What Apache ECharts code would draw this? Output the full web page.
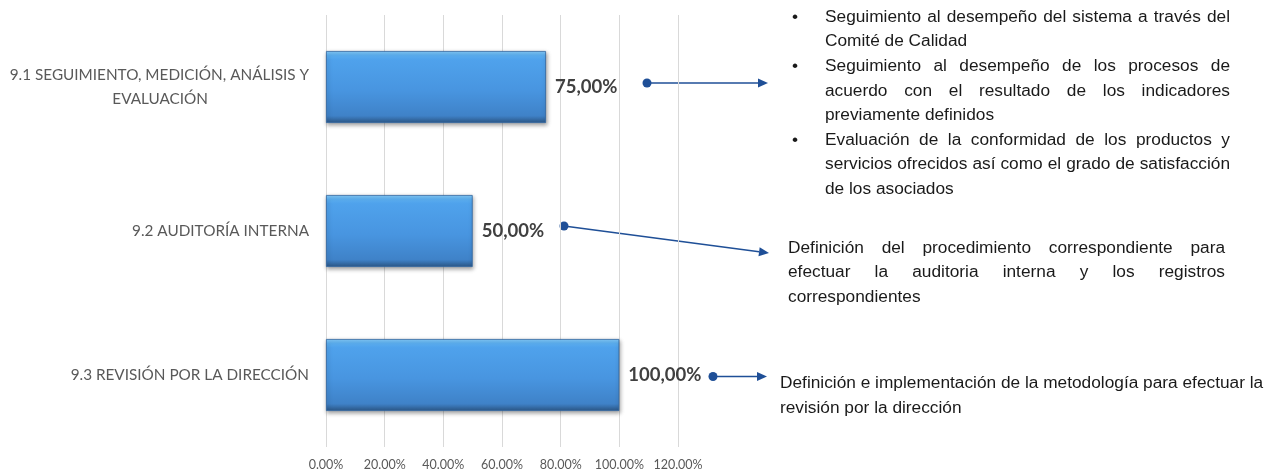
<!DOCTYPE html>
<html>
<head>
<meta charset="utf-8">
<title>Capítulo 9 – Evaluación del desempeño</title>
<script src="https://cdn.jsdelivr.net/npm/echarts@6/dist/echarts.min.js"></script>
<style>
  html, body { margin: 0; padding: 0; background: #ffffff; }
  #chart { width: 1269px; height: 471px; }
</style>
</head>
<body>
<div id="chart"></div>
<script>
// Requisitos del capítulo 9 y su grado de cumplimiento (%)
const categories = [
  '9.1 SEGUIMIENTO, MEDICIÓN, ANÁLISIS Y\nEVALUACIÓN',
  '9.2 AUDITORÍA INTERNA',
  '9.3 REVISIÓN POR LA DIRECCIÓN'
];
const cumplimiento = [75, 50, 100];
const xTicks = { min: 0, max: 120, interval: 20 };

// Notas que acompañan a cada requisito
const notas91 = [
  ['Seguimiento al desempeño del sistema a través del', 'Comité de Calidad'],
  ['Seguimiento al desempeño de los procesos de', 'acuerdo con el resultado de los indicadores', 'previamente definidos'],
  ['Evaluación de la conformidad de los productos y', 'servicios ofrecidos así como el grado de satisfacción', 'de los asociados']
];
const notas92 = ['Definición del procedimiento correspondiente para', 'efectuar la auditoria interna y los registros', 'correspondientes'];
const notas93 = ['Definición e implementación de la metodología para efectuar la', 'revisión por la dirección'];

const chart = echarts.init(document.getElementById('chart'), null, { renderer: 'canvas' });

const NOTE_FONT = 'Liberation Sans, Arial, sans-serif';
const NOTE_SIZE = 17.3;
const NOTE_COLOR = '#1a1a1a';
const ARROW_COLOR = '#1f4f97';
const AXIS_FONT = 'Lato, sans-serif';

const measureCtx = document.createElement('canvas').getContext('2d');
measureCtx.font = NOTE_SIZE + 'px ' + NOTE_FONT;
const textWidth = s => measureCtx.measureText(s).width;

function textEl(str, x, y) {
  return {
    type: 'text',
    silent: true,
    style: {
      text: str, x: x, y: y,
      fill: NOTE_COLOR,
      fontSize: NOTE_SIZE, fontFamily: NOTE_FONT,
      align: 'left', verticalAlign: 'middle',
      textAlign: 'left', textVerticalAlign: 'middle'
    }
  };
}

// One line of a paragraph; justified lines spread their words to the right edge
function lineEls(str, left, right, y, justify) {
  if (!justify) return [textEl(str, left, y)];
  const words = str.split(' ');
  const widths = words.map(textWidth);
  const total = widths.reduce((a, b) => a + b, 0);
  const gap = words.length > 1 ? (right - left - total) / (words.length - 1) : 0;
  const out = [];
  let x = left;
  words.forEach((w, i) => {
    out.push(textEl(w, x, y));
    x += widths[i] + gap;
  });
  return out;
}

// Paragraph: every line except the last is justified
function paragraphEls(lines, left, right, y0, lineH, justifyAll) {
  let els = [];
  lines.forEach((ln, i) => {
    const justify = justifyAll && i < lines.length - 1;
    els = els.concat(lineEls(ln, left, right, y0 + i * lineH, justify));
  });
  return els;
}

function arrowEls(x1, y1, x2, y2) {
  const ang = Math.atan2(y2 - y1, x2 - x1);
  const len = 10, half = 4.5;
  const bx = x2 - len * Math.cos(ang), by = y2 - len * Math.sin(ang);
  const nx = -Math.sin(ang), ny = Math.cos(ang);
  return [
    {
      type: 'line', silent: true,
      shape: { x1: x1, y1: y1, x2: bx, y2: by },
      style: { stroke: ARROW_COLOR, lineWidth: 1.6 }
    },
    {
      type: 'polygon', silent: true,
      shape: { points: [[x2, y2], [bx + nx * half, by + ny * half], [bx - nx * half, by - ny * half]] },
      style: { fill: ARROW_COLOR }
    },
    {
      type: 'circle', silent: true,
      shape: { cx: x1, cy: y1, r: 4.5 },
      style: { fill: ARROW_COLOR }
    }
  ];
}

function buildGraphics() {
  let els = [];
  // Bloque 9.1 con viñetas
  const lh = 24.6;
  let row = 0;
  notas91.forEach(par => {
    const y = 17 + row * lh;
    els.push(textEl('•', 792, y));
    els = els.concat(paragraphEls(par, 825, 1230, y, lh, true));
    row += par.length;
  });
  // Bloque 9.2
  els = els.concat(paragraphEls(notas92, 788, 1225, 248, 24.6, true));
  // Bloque 9.3
  els = els.concat(paragraphEls(notas93, 780, 1263, 383, 25, false));
  // Conectores
  els = els.concat(arrowEls(647, 83, 768, 83));
  els = els.concat(arrowEls(564, 226, 769, 253));
  els = els.concat(arrowEls(713, 376.5, 767, 376.5));
  return els;
}

const barGradient = new echarts.graphic.LinearGradient(0, 0, 0, 1, [
  { offset: 0, color: '#86cdfb' },
  { offset: 0.06, color: '#5cb0f2' },
  { offset: 0.12, color: '#4fa2ec' },
  { offset: 0.55, color: '#4895e0' },
  { offset: 0.9, color: '#3f82c8' },
  { offset: 0.96, color: '#33679f' },
  { offset: 1, color: '#2b5788' }
]);

chart.setOption({
  animation: false,
  backgroundColor: '#ffffff',
  grid: { left: 326, top: 15, width: 352, height: 435, containLabel: false },
  xAxis: {
    type: 'value',
    min: xTicks.min, max: xTicks.max, interval: xTicks.interval,
    axisLine: { show: false },
    axisTick: { show: false },
    splitLine: { show: true, lineStyle: { color: '#d9d9d9', width: 1 } },
    axisLabel: {
      margin: 11,
      color: '#595959',
      fontFamily: AXIS_FONT,
      fontSize: 12.5,
      formatter: v => v.toFixed(2) + '%'
    }
  },
  yAxis: {
    type: 'category',
    inverse: true,
    data: categories,
    axisLine: { show: false },
    axisTick: { show: false },
    splitLine: { show: false },
    axisLabel: {
      margin: 17,
      color: '#595959',
      fontFamily: AXIS_FONT,
      fontSize: 15.3,
      lineHeight: 24,
      align: 'right',
      formatter: v => {
        const parts = v.split('\n');
        if (parts.length === 1) return '{a|' + parts[0] + '}';
        return '{a|' + parts[0] + '}\n{b|' + parts[1] + '}';
      },
      rich: {
        a: { color: '#595959', fontFamily: AXIS_FONT, fontSize: 15.3, lineHeight: 24 },
        b: { color: '#595959', fontFamily: AXIS_FONT, fontSize: 15.3, lineHeight: 24, padding: [0, 101, 0, 0] }
      }
    }
  },
  series: [{
    type: 'bar',
    data: cumplimiento,
    barWidth: '50%',
    itemStyle: {
      color: barGradient,
      borderColor: '#2f65a0',
      borderWidth: 0.8,
      shadowColor: 'rgba(0,0,0,0.35)',
      shadowBlur: 4,
      shadowOffsetX: 1,
      shadowOffsetY: 2
    },
    label: {
      show: true,
      position: 'right',
      distance: 9,
      color: '#404040',
      fontFamily: AXIS_FONT,
      fontWeight: 'bold',
      fontSize: 18.5,
      formatter: p => p.value.toFixed(2).replace('.', ',') + '%'
    }
  }],
  graphic: { elements: buildGraphics() }
});
</script>
</body>
</html>
